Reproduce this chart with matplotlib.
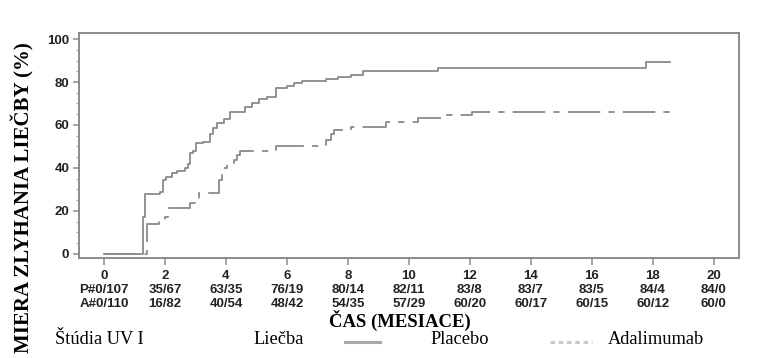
import matplotlib
matplotlib.use("Agg")
import matplotlib.pyplot as plt
from matplotlib.ticker import MultipleLocator

# ---- data ----
months = [0, 2, 4, 6, 8, 10, 12, 14, 16, 18, 20]
placebo_counts = ["P#0/107", "35/67", "63/35", "76/19", "80/14", "82/11", "83/8", "83/7", "83/5", "84/4", "84/0"]
adalimumab_counts = ["A#0/110", "16/82", "40/54", "48/42", "54/35", "57/29", "60/20", "60/17", "60/15", "60/12", "60/0"]

placebo_t = [0, 1.29, 1.33, 1.36, 1.84, 1.92, 2.05, 2.22, 2.38, 2.66, 2.77, 2.82, 2.93, 3.02,
             3.26, 3.48, 3.59, 3.70, 3.92, 4.14, 4.64, 4.86, 5.08, 5.35, 5.63, 6.01, 6.23,
             6.51, 7.27, 7.66, 8.10, 8.48, 10.96, 17.77, 18.56]
placebo_v = [0, 17, 23.5, 27.7, 29, 34.4, 36, 37.5, 38.6, 39.8, 42, 46.8, 48, 51.5,
             52.2, 56, 58.4, 60.8, 63, 66.2, 68.5, 70, 72, 73.2, 77.4, 78, 79.4,
             80.5, 81.4, 82.5, 83.3, 85.3, 86.7, 89.5, 89.5]

ada_t = [0, 1.40, 1.81, 2.0, 2.1, 2.82, 2.99, 3.1, 3.76, 3.87, 4.03, 4.25, 4.36, 4.47,
         5.63, 7.27, 7.44, 7.55, 8.10, 9.25, 10.3, 11.18, 12.06, 18.81]
ada_v = [0, 14, 15.8, 17.4, 21.2, 23.6, 25, 28.2, 34.4, 39.8, 42.2, 43.7, 46, 48,
         50.2, 53, 56, 57.7, 59.2, 61.6, 63.1, 64.7, 66.2, 66.2]

y_ticks = [0, 20, 40, 60, 80, 100]

# ---- figure ----
fig = plt.figure(figsize=(7.72, 3.58), dpi=100)
ax = fig.add_axes([0.1023, 0.2793, 0.8547, 0.6285])

line_col = "#8a8a8a"
ax.step(placebo_t, placebo_v, where="post", color=line_col, lw=1.3)
ax.step(ada_t, ada_v, where="post", color=line_col, lw=1.3,
        linestyle=(0, (18, 4.5, 3.5, 4.5)))

ax.set_xlim(-0.82, 20.82)
ax.set_ylim(-1.9, 102.8)

for s in ax.spines.values():
    s.set_color("#8a8a8a")
    s.set_linewidth(1.4)

ax.set_yticks(y_ticks)
ax.yaxis.set_minor_locator(MultipleLocator(5))
ax.set_yticklabels([str(v) for v in y_ticks], fontfamily="Liberation Sans",
                   fontweight="bold", fontsize=9.5, color="#222222")
ax.tick_params(axis="y", which="major", length=4, width=1.1, color="#8a8a8a", pad=3)
ax.tick_params(axis="y", which="minor", length=2, width=0.8, color="#aaaaaa")

ax.set_xticks(months)
xlabels = [f"{m}\n{p}\n{a}" for m, p, a in zip(months, placebo_counts, adalimumab_counts)]
ax.set_xticklabels(xlabels, fontfamily="Liberation Sans", fontweight="bold",
                   fontsize=9.5, color="#222222", linespacing=1.25)
ax.tick_params(axis="x", which="major", length=5, width=1.1, color="#8a8a8a", pad=3.5)

# axis labels
fig.text(0.030, 1 - 198 / 358, "MIERA ZLYHANIA LIEČBY (%)", rotation=90, ha="center", va="center",
         fontfamily="Liberation Serif", fontweight="bold", fontsize=15)
fig.text(400 / 772, 1 - 320 / 358, "ČAS (MESIACE)", ha="center", va="center",
         fontfamily="Liberation Serif", fontweight="bold", fontsize=13.5)

# legend row
ly = 1 - 339 / 358
fs = 13.2
fig.text(55 / 772, ly, "Štúdia UV I", ha="left", va="center",
         fontfamily="Liberation Serif", fontsize=fs)
fig.text(253 / 772, ly, "Liečba", ha="left", va="center",
         fontfamily="Liberation Serif", fontsize=fs)
fig.add_artist(plt.Line2D([345 / 772, 380 / 772], [1 - 342 / 358] * 2,
                          transform=fig.transFigure, color="#a8a8a8", lw=2.2))
fig.text(430 / 772, ly, "Placebo", ha="left", va="center",
         fontfamily="Liberation Serif", fontsize=fs)
fig.add_artist(plt.Line2D([550 / 772, 592 / 772], [1 - 342 / 358] * 2,
                          transform=fig.transFigure, color="#c8c8c8", lw=2.2,
                          linestyle=(0, (1.5, 1.2))))
fig.text(608 / 772, ly, "Adalimumab", ha="left", va="center",
         fontfamily="Liberation Serif", fontsize=fs)

fig.savefig("out.png", dpi=100)
